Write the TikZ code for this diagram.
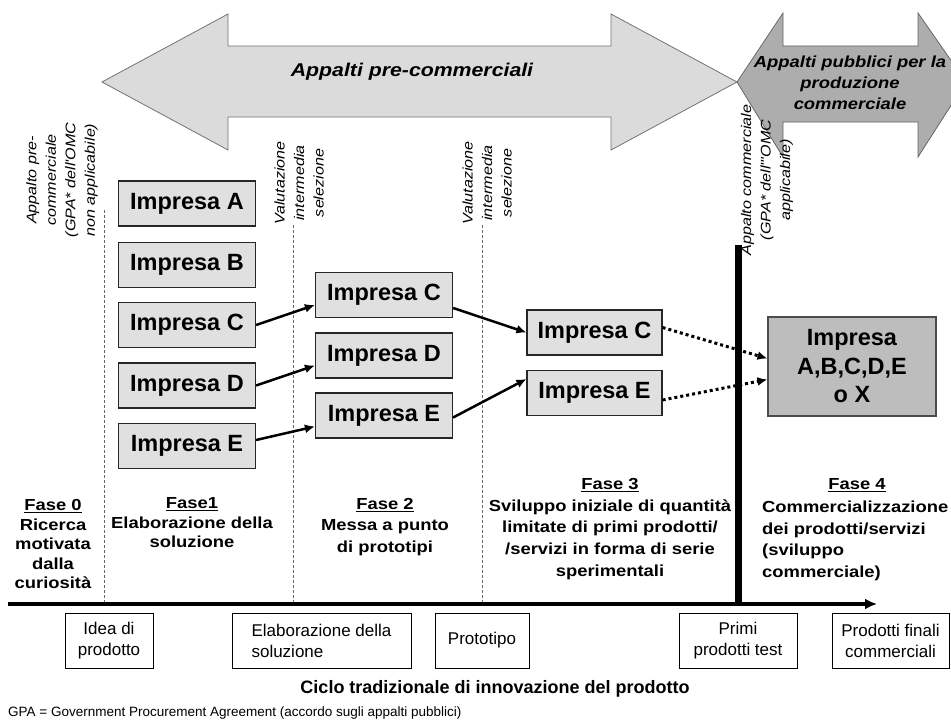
\documentclass[tikz,border=0pt]{standalone}
\usepackage{fontspec}
\setmainfont{Liberation Sans}
\newfontfamily\widefont[FakeStretch=1.15]{Liberation Sans}
\usetikzlibrary{arrows.meta}

\tikzset{
  impresa/.style={draw=black!85, fill=black!12, line width=1.2pt, minimum width=137pt, minimum height=45pt, inner sep=0pt, font=\fontsize{23.5}{26}\selectfont\bfseries},
  finale/.style={draw=black!70, fill=black!26, line width=1.2pt, minimum width=168pt, minimum height=99pt, inner sep=0pt, align=center, font=\fontsize{23.5}{28.5}\selectfont\bfseries},
  fase/.style={inner sep=0pt, align=center, font=\widefont\fontsize{16}{#1}\selectfont\bfseries},
  fase/.default=19.5,
  nota/.style={rotate=90, inner sep=0pt, align=center, font=\widefont\fontsize{14}{19.5}\selectfont\itshape},
  tappa/.style={draw, line width=0.8pt, fill=white, minimum height=55pt, inner sep=0pt, align=center, font=\fontsize{17}{21}\selectfont},
  passa/.style={line width=2.5pt, -{Latex[length=10pt,width=9pt]}},
  forse/.style={line width=3pt, dash pattern=on 3pt off 3pt, -{Latex[length=10pt,width=9pt]}},
  soglia/.style={black!60, line width=0.8pt, dash pattern=on 3pt off 2pt},
}

\begin{document}
\begin{tikzpicture}[x=1pt,y=-1pt]
                        \useasboundingbox (0,0) rectangle (951,725);
                        % Procurement arrows
                        \begin{scope}
                        \clip (0,0) rectangle (951,725);
                        \draw[draw=black!60, fill=black!32, line width=0.8pt] (737,82) -- (783,13) -- (783,46) -- (918,46) -- (918,13) -- (966,82) -- (918,157) -- (918,122) -- (783,122) -- (783,157) -- cycle;
                        \end{scope}
                        \draw[draw=black!55, fill=black!14, line width=0.8pt] (102,82) -- (228,14) -- (228,46) -- (611,46) -- (611,14) -- (737,82) -- (611,150) -- (611,117) -- (228,117) -- (228,150) -- cycle;
                        \node[font=\widefont\fontsize{18.5}{22}\selectfont\bfseries\itshape] (PRE) at (412,72) {Appalti pre-commerciali};
                        \node[align=center, font=\widefont\fontsize{16}{21}\selectfont\bfseries\itshape] (PROD) at (850,83) {Appalti pubblici per la\\produzione\\commerciale};
                        % Thresholds
                        \node[nota] (N0) at (62,180) {Appalto pre-\\commerciale\\(GPA* dell'OMC\\non applicabile)};
                        \node[nota] (V1) at (299,183) {Valutazione\\intermedia\\selezione};
                        \node[nota] (V2) at (487,183) {Valutazione\\intermedia\\selezione};
                        \node[nota] (N4) at (767,180) {Appalto commerciale\\(GPA* dell'"OMC\\applicabile)};
                        \coordinate (S1a) at (104,210); \coordinate (S1b) at (104,604);
                        \coordinate (S2a) at (293,225); \coordinate (S2b) at (293,604);
                        \coordinate (S3a) at (482,225); \coordinate (S3b) at (482,604);
                        \coordinate (S4a) at (738,245); \coordinate (S4b) at (738,604);
                        \draw[soglia] (S1a) -- (S1b);
                        \draw[soglia] (S2a) -- (S2b);
                        \draw[soglia] (S3a) -- (S3b);
                        \draw[line width=7pt] (S4a) -- (S4b);
                        % Phase 1
                        \node[impresa] (IA1) at (187,203.5) {Impresa A};
                        \node[impresa] (IB1) at (187,265) {Impresa B};
                        \node[impresa] (IC1) at (187,325) {Impresa C};
                        \node[impresa] (ID1) at (187,385.5) {Impresa D};
                        \node[impresa] (IE1) at (187,446) {Impresa E};
                        % Phase 2
                        \node[impresa] (IC2) at (384,295) {Impresa C};
                        \node[impresa] (ID2) at (384,355.5) {Impresa D};
                        \node[impresa] (IE2) at (384,415.5) {Impresa E};
                        % Phase 3
                        \node[impresa, minimum width=135pt] (IC3) at (594.5,332.5) {Impresa C};
                        \node[impresa, minimum width=135pt] (IE3) at (594.5,393) {Impresa E};
                        % Phase 4
                        \node[finale] (IX) at (852,366.5) {Impresa\\A,B,C,D,E\\o X};
                        % links
                        \draw[passa] (IC1.east) -- ([yshift=-10pt]IC2.west);
                        \draw[passa] (ID1.east) -- ([yshift=-10pt]ID2.west);
                        \draw[passa] ([yshift=6pt]IE1.east) -- ([yshift=-11pt]IE2.west);
                        \draw[passa] ([yshift=-13pt]IC2.east) -- (IC3.west);
                        \draw[passa] ([yshift=-2pt]IE2.east) -- ([yshift=14pt]IE3.west);
                        \draw[forse] ([yshift=5pt]IC3.east) -- ([yshift=8pt]IX.west);
                        \draw[forse] ([yshift=-7pt]IE3.east) -- ([yshift=-13pt]IX.west);
                        % Phase labels
                        \node[fase] (F0) at (53,544) {\underline{Fase 0}\\Ricerca\\motivata\\dalla\\curiosità};
                        \node[fase] (F1) at (192,523) {\underline{Fase1}\\Elaborazione della\\soluzione};
                        \node[fase=21.7] (F2) at (385,527) {\underline{Fase 2}\\Messa a punto\\di prototipi};
                        \node[fase=21.7] (F3) at (610,529) {\underline{Fase 3}\\Sviluppo iniziale di quantità\\limitate di primi prodotti/\\/servizi in forma di serie\\sperimentali};
                        \node[fase] (F4T) at (857,485) {\underline{Fase 4}};
                        \node[fase=21.7, align=left, anchor=west] (F4) at (762,541) {Commercializzazione\\dei prodotti/servizi\\(sviluppo\\commerciale)};
                        % Product cycle
                        \coordinate (AXa) at (8,604); \coordinate (AXb) at (877,604);
                        \draw[line width=4pt, -{Latex[length=12pt,width=11pt]}] (AXa) -- (AXb);
                        \node[tappa, minimum width=88pt] (IDEA) at (109,640.5) {Idea di\\prodotto};
                        \node[tappa, minimum width=179pt, align=left] (ELAB) at (321.5,640.5) {Elaborazione della\\soluzione};
                        \node[tappa, minimum width=94pt] (PROTO) at (482,640.5) {Prototipo};
                        \node[tappa, minimum width=118pt] (PRIMI) at (738,640.5) {Primi\\prodotti test};
                        \node[tappa, minimum width=117pt] (FINALI) at (890.5,640.5) {Prodotti finali\\commerciali};
                        \node[font=\fontsize{18}{21}\selectfont\bfseries] (CICLO) at (495,689) {Ciclo tradizionale di innovazione del prodotto};
                        \node[anchor=west, inner sep=0pt, font=\fontsize{13.5}{15}\selectfont] (GPA) at (8,713) {GPA = Government Procurement Agreement (accordo sugli appalti pubblici)};
\end{tikzpicture}
\end{document}
